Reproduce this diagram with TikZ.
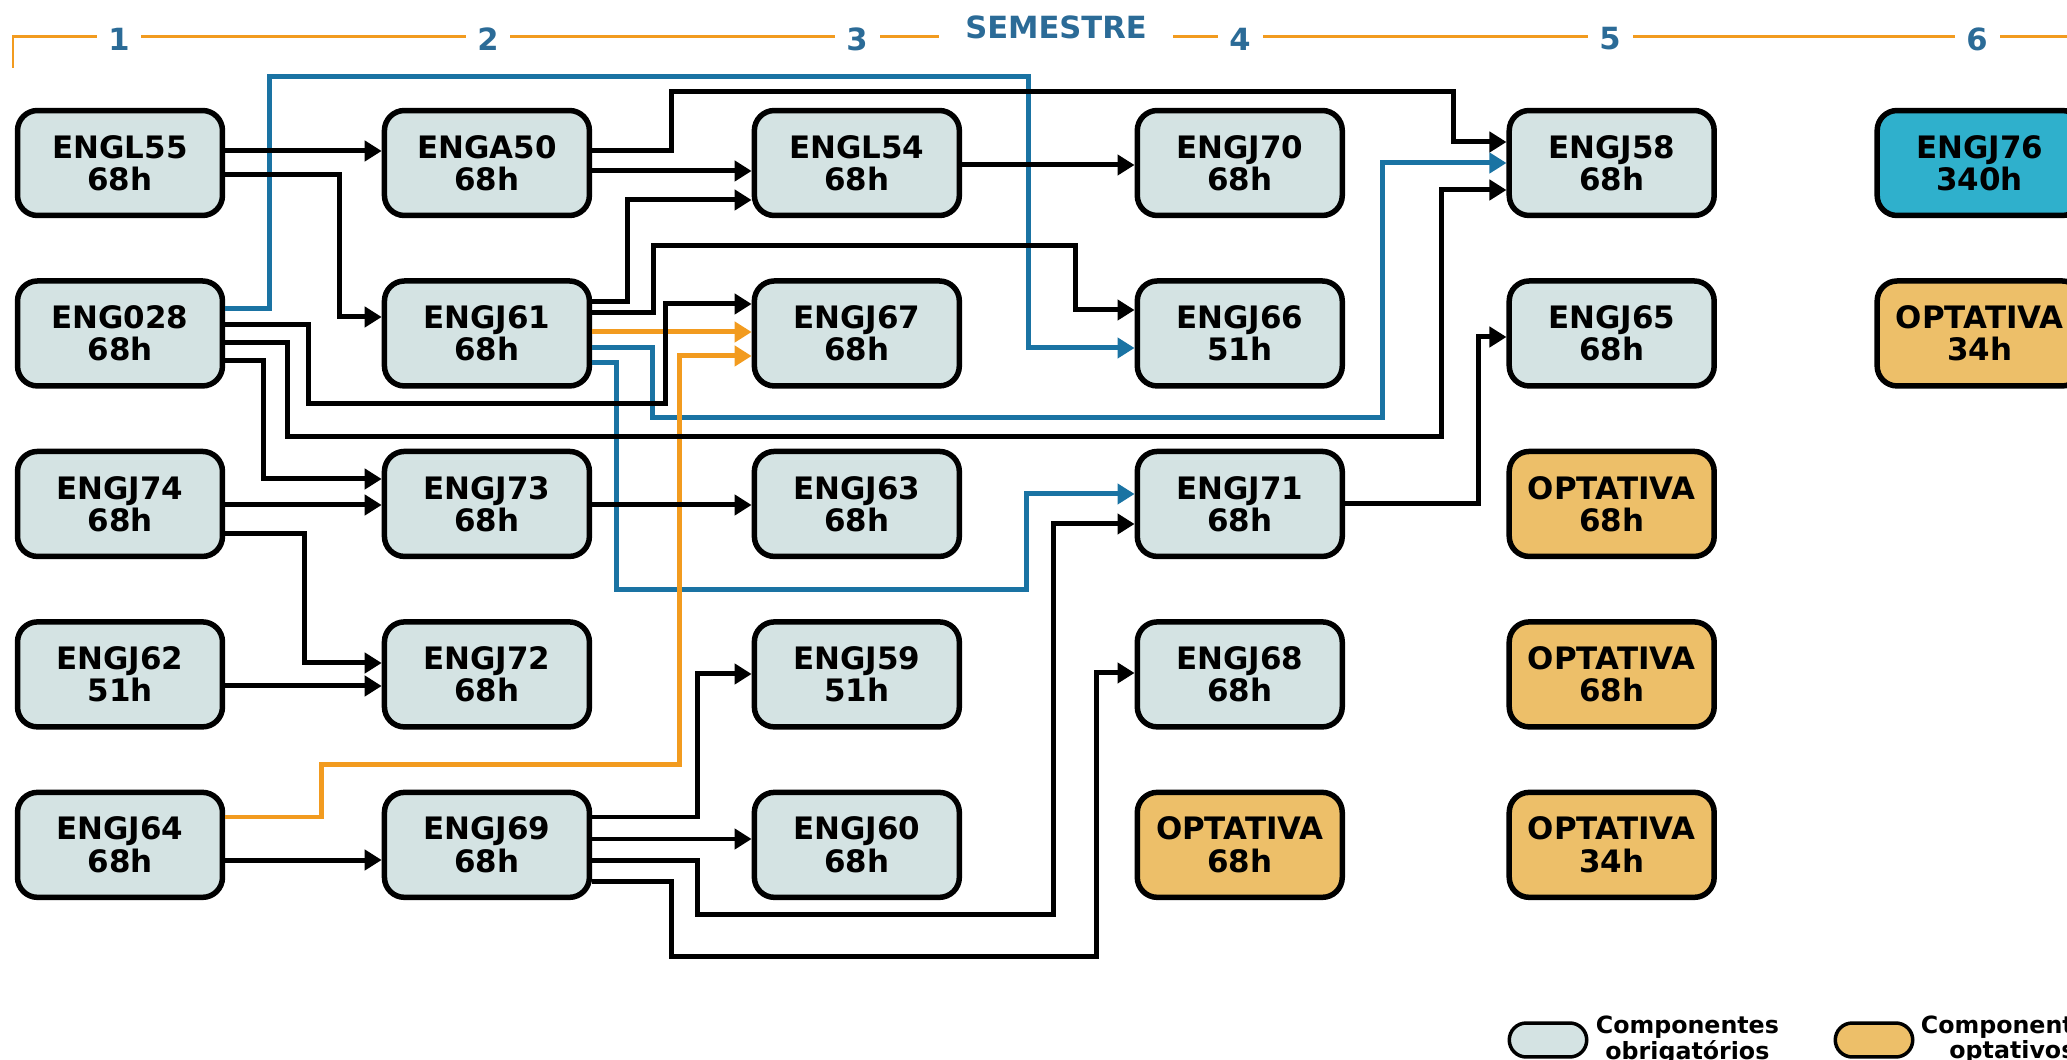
\documentclass[tikz,border=0pt]{standalone}
\usepackage{fontspec}
\setmainfont{DejaVu Sans}
\usetikzlibrary{arrows.meta,positioning}

\definecolor{obrig}{HTML}{D4E3E3}
\definecolor{optat}{HTML}{EDBF69}
\definecolor{estagio}{HTML}{2FB0CC}
\definecolor{linhaazul}{HTML}{1A73A3}
\definecolor{linhalaranja}{HTML}{F29B1F}
\definecolor{semazul}{HTML}{2B6B97}

\tikzset{
    disc/.style={rectangle, draw=black, line width=0.11cm, rounded corners=0.4cm, fill=obrig, text centered, align=center, text=black, minimum width=4.1cm, minimum height=2.1cm, inner sep=0pt, font=\fontsize{17.6}{18.4}\selectfont\bfseries},
    optativa/.style={disc, fill=optat},
    prereq/.style={->, line width=0.1cm, black},
    prereqazul/.style={->, line width=0.1cm, linhaazul},
    prereqlaranja/.style={->, line width=0.1cm, linhalaranja},
    semnum/.style={fill=white, text=semazul, inner sep=0pt, minimum width=0.9cm, minimum height=0.7cm, font=\fontsize{17.4}{17.4}\selectfont\bfseries},
    legenda/.style={rectangle, draw=black, line width=0.07cm, rounded corners=0.34cm, minimum width=1.55cm, minimum height=0.68cm, inner sep=0pt},
    legtexto/.style={align=center, inner sep=0pt, font=\fontsize{13.5}{12}\selectfont\bfseries}
}

\begin{document}
\begin{tikzpicture}[x=0.02cm, y=-0.02cm, node distance=1.2cm and 3.13cm, >={Triangle[length=0.34cm,width=0.4cm]}]
    \useasboundingbox (0,0) rectangle (2067,1060);

    % semestres
    \draw[line width=0.06cm, linhalaranja] (13,68) -- (13,37) -- (2067,37);
    \node (Sem1) [semnum] at (119,39) {1};
    \node (Sem2) [semnum] at (488,39) {2};
    \node (Sem3) [semnum] at (857,39) {3};
    \node (Sem4) [semnum] at (1240,39) {4};
    \node (Sem5) [semnum] at (1610,39) {5};
    \node (Sem6) [semnum] at (1977,39) {6};
    \node (Semestre) [semnum, minimum width=4.68cm] at (1056,27) {SEMESTRE};

    % 1o semestre
    \node (ENGL55) [disc] at (120,163) {ENGL55\\68h};
    \node (ENG028) [disc, below=of ENGL55] {ENG028\\68h};
    \node (ENGJ74) [disc, below=of ENG028] {ENGJ74\\68h};
    \node (ENGJ62) [disc, below=of ENGJ74] {ENGJ62\\51h};
    \node (ENGJ64) [disc, below=of ENGJ62] {ENGJ64\\68h};

    % 2o semestre
    \node (ENGA50) [disc, right=of ENGL55] {ENGA50\\68h};
    \node (ENGJ61) [disc, right=of ENG028] {ENGJ61\\68h};
    \node (ENGJ73) [disc, right=of ENGJ74] {ENGJ73\\68h};
    \node (ENGJ72) [disc, right=of ENGJ62] {ENGJ72\\68h};
    \node (ENGJ69) [disc, right=of ENGJ64] {ENGJ69\\68h};

    % 3o semestre
    \node (ENGL54) [disc, right=3.19cm of ENGA50] {ENGL54\\68h};
    \node (ENGJ67) [disc, right=3.19cm of ENGJ61] {ENGJ67\\68h};
    \node (ENGJ63) [disc, right=3.19cm of ENGJ73] {ENGJ63\\68h};
    \node (ENGJ59) [disc, right=3.19cm of ENGJ72] {ENGJ59\\51h};
    \node (ENGJ60) [disc, right=3.19cm of ENGJ69] {ENGJ60\\68h};

    % 4o semestre
    \node (ENGJ70) [disc, right=3.45cm of ENGL54] {ENGJ70\\68h};
    \node (ENGJ66) [disc, right=3.45cm of ENGJ67] {ENGJ66\\51h};
    \node (ENGJ71) [disc, right=3.45cm of ENGJ63] {ENGJ71\\68h};
    \node (ENGJ68) [disc, right=3.45cm of ENGJ59] {ENGJ68\\68h};
    \node (OptativaQuatro) [optativa, right=3.45cm of ENGJ60] {OPTATIVA\\68h};

    % 5o semestre
    \node (ENGJ58) [disc, right=3.23cm of ENGJ70] {ENGJ58\\68h};
    \node (ENGJ65) [disc, right=3.23cm of ENGJ66] {ENGJ65\\68h};
    \node (OptativaCincoA) [optativa, right=3.23cm of ENGJ71] {OPTATIVA\\68h};
    \node (OptativaCincoB) [optativa, right=3.23cm of ENGJ68] {OPTATIVA\\68h};
    \node (OptativaCincoC) [optativa, right=3.23cm of OptativaQuatro] {OPTATIVA\\34h};

    % 6o semestre
    \node (ENGJ76) [disc, fill=estagio, right=3.15cm of ENGJ58] {ENGJ76\\340h};
    \node (OptativaSeis) [optativa, right=3.15cm of ENGJ65] {OPTATIVA\\34h};

    % pre-requisitos em azul
    \draw[prereqazul] (ENG028.east |- 0,309) -| (269,77) -| (1028,348) -- (ENGJ66.west |- 0,348);
    \draw[prereqazul] (ENGJ61.east |- 0,348) -| (652,418) -| (1382,163) -- (ENGJ58.west |- 0,163);
    \draw[prereqazul] (ENGJ61.east |- 0,363) -| (616,590) -| (1026,494) -- (ENGJ71.west |- 0,494);

    % pre-requisitos em laranja
    \draw[prereqlaranja] (ENGJ61.east |- 0,332) -- (ENGJ67.west |- 0,332);
    \draw[prereqlaranja] (ENGJ64.east |- 0,817) -| (321,765) -| (679,356) -- (ENGJ67.west |- 0,356);

    % pre-requisitos
    \draw[prereq] (ENGL55.east |- 0,151) -- (ENGA50.west |- 0,151);
    \draw[prereq] (ENGL55.east |- 0,175) -| (339,317) -- (ENGJ61.west |- 0,317);
    \draw[prereq] (ENGA50.east |- 0,151) -| (671,92) -| (1453,142) -- (ENGJ58.west |- 0,142);
    \draw[prereq] (ENGA50.east |- 0,171) -- (ENGL54.west |- 0,171);
    \draw[prereq] (ENGJ61.east |- 0,302) -| (627,200) -- (ENGL54.west |- 0,200);
    \draw[prereq] (ENGJ61.east |- 0,313) -| (653,246) -| (1075,310) -- (ENGJ66.west |- 0,310);
    \draw[prereq] (ENG028.east |- 0,325) -| (308,404) -| (665,304) -- (ENGJ67.west |- 0,304);
    \draw[prereq] (ENG028.east |- 0,343) -| (287,437) -| (1441,190) -- (ENGJ58.west |- 0,190);
    \draw[prereq] (ENG028.east |- 0,361) -| (263,479) -- (ENGJ73.west |- 0,479);
    \draw[prereq] (ENGJ74.east |- 0,505) -- (ENGJ73.west |- 0,505);
    \draw[prereq] (ENGJ74.east |- 0,534) -| (304,663) -- (ENGJ72.west |- 0,663);
    \draw[prereq] (ENGJ62.east |- 0,686) -- (ENGJ72.west |- 0,686);
    \draw[prereq] (ENGJ73.east |- 0,505) -- (ENGJ63.west |- 0,505);
    \draw[prereq] (ENGJ64.east |- 0,860) -- (ENGJ69.west |- 0,860);
    \draw[prereq] (ENGJ69.east |- 0,817) -| (697,674) -- (ENGJ59.west |- 0,674);
    \draw[prereq] (ENGJ69.east |- 0,839) -- (ENGJ60.west |- 0,839);
    \draw[prereq] (ENGJ69.east |- 0,860) -| (697,914) -| (1053,524) -- (ENGJ71.west |- 0,524);
    \draw[prereq] (ENGJ69.east |- 0,881) -| (671,956) -| (1096,673) -- (ENGJ68.west |- 0,673);
    \draw[prereq] (ENGL54.east |- 0,165) -- (ENGJ70.west |- 0,165);
    \draw[prereq] (ENGJ71.east |- 0,504) -| (1478,337) -- (ENGJ65.west |- 0,337);

    % legenda
    \node (LegObrig) [legenda, fill=obrig] at (1548,1040) {};
    \node (LegObrigTexto) [legtexto, right=0.14cm of LegObrig] {Componentes\\obrigatórios};
    \node (LegOptat) [legenda, fill=optat] at (1874,1040) {};
    \node (LegOptatTexto) [legtexto, right=0.12cm of LegOptat] {Componentes\\optativos};
\end{tikzpicture}
\end{document}
